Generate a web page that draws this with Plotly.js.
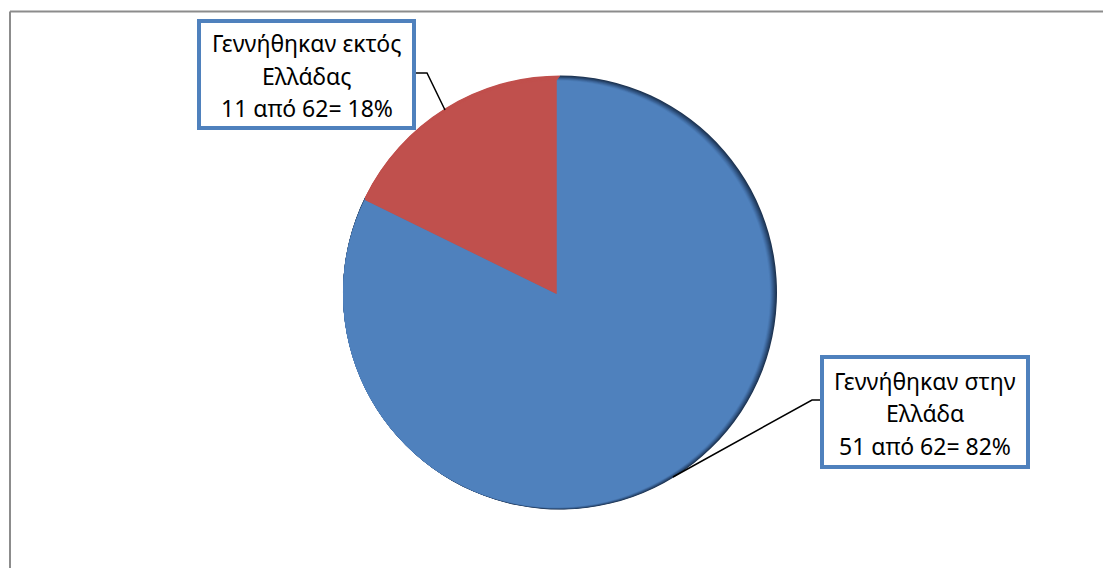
<!DOCTYPE html>
<html>
<head>
<meta charset="utf-8">
<script src="https://cdn.plot.ly/plotly-3.0.1.min.js"></script>
<style>html,body{margin:0;padding:0;background:#fff;}#chart{width:1103px;height:568px;}</style>
</head>
<body>
<div id="chart"></div>
<script>
// ---- data ----
const categories = ["Γεννήθηκαν στην Ελλάδα", "Γεννήθηκαν εκτός Ελλάδας"];
const labelLine1 = ["Γεννήθηκαν στην", "Γεννήθηκαν εκτός"];
const labelLine2 = ["Ελλάδα", "Ελλάδας"];
const values = [51, 11];
const colors = ["#4F81BD", "#C0504D"];
// edge-shade tones for the soft shadow on the blue slice (dark -> base)
const shadeTones = ["#1E3452", "#243F62", "#2B4B74", "#335786", "#3B6396", "#436FA6", "#4A7AB4"];

const W = 1103, H = 568;
const total = values.reduce((a, b) => a + b, 0);
const px = x => x / W;
const py = y => 1 - y / H;

function pieDomain(cx, cy, r) {
  return { x: [px(cx - r), px(cx + r)], y: [py(cy + r), py(cy - r)] };
}

function pieTrace(dom, cols) {
  return {
    type: "pie",
    labels: categories,
    values: values,
    sort: false,
    direction: "clockwise",
    rotation: 0,
    textinfo: "none",
    hoverinfo: "skip",
    showlegend: false,
    marker: { colors: cols, line: { width: 0 } },
    domain: dom
  };
}

// outer silhouette circle and inner (lit) circle, pixel geometry
const outer = { cx: 560, cy: 292.5, r: 217 };
const inner = { cx: 556.5, cy: 294, r: 213.5 };
const n = shadeTones.length;
const data = shadeTones.map((tone, k) => {
  const t = k / n;
  const c = {
    cx: outer.cx + (inner.cx - outer.cx) * t,
    cy: outer.cy + (inner.cy - outer.cy) * t,
    r: outer.r + (inner.r - outer.r) * t
  };
  return pieTrace(pieDomain(c.cx, c.cy, c.r), [tone, colors[1]]);
});
data.push(pieTrace(pieDomain(inner.cx, inner.cy, inner.r), colors));

// label boxes (pixel positions)
const boxes = [
  { x0: 822, y0: 357, x1: 1028, y1: 467, lines: [381, 413, 446], cxT: 925 },
  { x0: 199, y0: 21, x1: 414, y1: 128, lines: [43, 76, 108], cxT: 306.5 }
];
const leaders = [
  [[822, 400], [812, 400], [673, 477]],
  [[414, 73], [427, 73], [445, 110]]
];

const shapes = [];
const annotations = [];
// chart frame
shapes.push({ type: "line", xref: "paper", yref: "paper", x0: px(10), x1: px(W + 5), y0: py(11.5), y1: py(11.5), line: { color: "#8C8C8C", width: 2 } });
shapes.push({ type: "line", xref: "paper", yref: "paper", x0: px(10), x1: px(10), y0: py(11.5), y1: py(H + 5), line: { color: "#8C8C8C", width: 2 } });

categories.forEach((c, i) => {
  const b = boxes[i];
  const pts = leaders[i];
  let path = "M " + px(pts[0][0]) + "," + py(pts[0][1]);
  for (let k = 1; k < pts.length; k++) path += " L " + px(pts[k][0]) + "," + py(pts[k][1]);
  shapes.push({ type: "path", xref: "paper", yref: "paper", path: path, line: { color: "#000", width: 1.5 } });
  shapes.push({ type: "rect", xref: "paper", yref: "paper", x0: px(b.x0), x1: px(b.x1), y0: py(b.y1), y1: py(b.y0), line: { color: "#4F81BD", width: 4 }, fillcolor: "#FFFFFF" });
  const pct = Math.round(values[i] / total * 100);
  const texts = [labelLine1[i], labelLine2[i], values[i] + " από " + total + "= " + pct + "%"];
  texts.forEach((t, k) => {
    annotations.push({ xref: "paper", yref: "paper", x: px(b.cxT), y: py(b.lines[k]), xanchor: "center", yanchor: "middle", showarrow: false, text: t, font: { family: "Noto Sans, sans-serif", size: 23, color: "#000" } });
  });
});

const layout = {
  width: W, height: H,
  margin: { l: 0, r: 0, t: 0, b: 0 },
  paper_bgcolor: "#FFFFFF",
  plot_bgcolor: "#FFFFFF",
  showlegend: false,
  shapes: shapes,
  annotations: annotations
};

Plotly.newPlot("chart", data, layout, { displayModeBar: false, staticPlot: true });
</script>
</body>
</html>
